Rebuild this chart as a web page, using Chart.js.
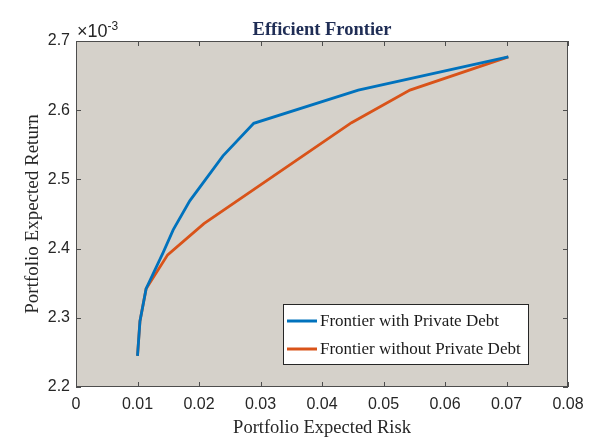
<!DOCTYPE html>
<html>
<head>
<meta charset="utf-8">
<script src="https://cdn.jsdelivr.net/npm/chart.js@4.4.0/dist/chart.umd.min.js"></script>
<style>
  html, body { margin: 0; padding: 0; background: #fff; }
  #wrap { width: 595px; height: 441px; }
</style>
</head>
<body>
<div id="wrap"><canvas id="frontierChart" width="595" height="441"></canvas></div>
<script>
// Series data (risk, expected return)
const seriesLabels = ['Frontier with Private Debt', 'Frontier without Private Debt'];
const withRisk = [0.0100, 0.0104, 0.0114, 0.0142, 0.0158, 0.0185, 0.0239, 0.0289, 0.0459, 0.0703];
const withReturn = [0.002245, 0.002295, 0.002342, 0.002395, 0.002427, 0.002469, 0.002534, 0.002581, 0.002629, 0.002677];
const withoutRisk = [0.0100, 0.0104, 0.0114, 0.0149, 0.0208, 0.0448, 0.0543, 0.0703];
const withoutReturn = [0.002245, 0.002295, 0.002342, 0.002391, 0.002436, 0.002582, 0.002629, 0.002677];
const xTicks = [0, 0.01, 0.02, 0.03, 0.04, 0.05, 0.06, 0.07, 0.08];
const yTicks = [0.0022, 0.0023, 0.0024, 0.0025, 0.0026, 0.0027];
const colors = ['#0072BD', '#D95319'];

const serif = '"Liberation Serif", "Times New Roman", serif';
const sans = '"Liberation Sans", Arial, sans-serif';

function toPoints(xs, ys) {
    return xs.map((x, i) => ({ x: x, y: ys[i] }));
}

// Draws the grey axes box, inner ticks, title, labels and the boxed legend
const matlabLook = {
    id: 'matlabLook',
    beforeDraw(chart) {
        const { ctx, chartArea: a } = chart;
        ctx.save();
        ctx.fillStyle = '#d5d1ca';
        ctx.fillRect(a.left, a.top, a.right - a.left, a.bottom - a.top);
        ctx.restore();
    },
    afterDraw(chart) {
        const { ctx, chartArea: a, scales } = chart;
        ctx.save();
        // box
        ctx.strokeStyle = '#4d4d4d';
        ctx.lineWidth = 1;
        ctx.strokeRect(a.left + 0.5, a.top + 0.5, a.right - a.left - 1, a.bottom - a.top - 1);
        // inner ticks on all four sides
        const tl = 5;
        ctx.beginPath();
        xTicks.forEach(v => {
            const px = Math.round(scales.x.getPixelForValue(v)) + 0.5;
            ctx.moveTo(px, a.bottom); ctx.lineTo(px, a.bottom - tl);
            ctx.moveTo(px, a.top); ctx.lineTo(px, a.top + tl);
        });
        yTicks.forEach(v => {
            const py = Math.round(scales.y.getPixelForValue(v)) + 0.5;
            ctx.moveTo(a.left, py); ctx.lineTo(a.left + tl, py);
            ctx.moveTo(a.right, py); ctx.lineTo(a.right - tl, py);
        });
        ctx.stroke();

        // title
        ctx.fillStyle = '#1f2d55';
        ctx.font = 'bold 18.5px ' + serif;
        ctx.textAlign = 'center';
        ctx.textBaseline = 'alphabetic';
        ctx.fillText('Efficient Frontier', (a.left + a.right) / 2, 35);

        // exponent label
        ctx.fillStyle = '#262626';
        ctx.textAlign = 'left';
        ctx.font = '18px ' + sans;
        const base = '\u00d710';
        ctx.fillText(base, a.left + 1, 37);
        const bw = ctx.measureText(base).width;
        ctx.font = '12px ' + sans;
        ctx.fillText('-3', a.left + 1 + bw, 30);

        // legend
        const lx = 283, ly = 304, lw = 245, lh = 60;
        ctx.fillStyle = '#ffffff';
        ctx.fillRect(lx, ly, lw, lh);
        ctx.strokeStyle = '#262626';
        ctx.strokeRect(lx + 0.5, ly + 0.5, lw, lh);
        ctx.font = '17px ' + serif;
        ctx.textBaseline = 'middle';
        chart.data.datasets.forEach((ds, i) => {
            const y = ly + 17 + i * 28;
            ctx.strokeStyle = ds.borderColor;
            ctx.lineWidth = 3;
            ctx.beginPath();
            ctx.moveTo(lx + 4, y);
            ctx.lineTo(lx + 34, y);
            ctx.stroke();
            ctx.fillStyle = '#1a1a1a';
            ctx.fillText(ds.label, lx + 37, y + 1);
        });
        ctx.restore();
    }
};

const ctx = document.getElementById('frontierChart').getContext('2d');
new Chart(ctx, {
    type: 'line',
    data: {
        datasets: [
            {
                label: seriesLabels[0],
                data: toPoints(withRisk, withReturn),
                borderColor: colors[0],
                borderWidth: 2.8,
                pointRadius: 0,
                tension: 0,
                fill: false
            },
            {
                label: seriesLabels[1],
                data: toPoints(withoutRisk, withoutReturn),
                borderColor: colors[1],
                borderWidth: 2.8,
                pointRadius: 0,
                tension: 0,
                fill: false
            }
        ]
    },
    options: {
        responsive: false,
        animation: false,
        layout: { padding: { top: 41, right: 27, left: 0, bottom: 0 } },
        plugins: {
            legend: { display: false },
            tooltip: { enabled: false },
            title: { display: false }
        },
        scales: {
            x: {
                type: 'linear',
                min: 0,
                max: 0.08,
                afterBuildTicks: s => { s.ticks = xTicks.map(v => ({ value: v })); },
                afterFit: s => { s.height = 54; },
                grid: { display: false, drawTicks: false },
                border: { display: false },
                ticks: {
                    padding: 8,
                    color: '#262626',
                    font: { family: sans, size: 16 },
                    maxRotation: 0,
                    callback: v => v === 0 ? '0' : String(Math.round(v * 100) / 100)
                },
                title: {
                    display: true,
                    text: 'Portfolio Expected Risk',
                    color: '#262626',
                    font: { family: serif, size: 18.5 },
                    padding: { top: 0, bottom: 2 }
                }
            },
            y: {
                type: 'linear',
                min: 0.0022,
                max: 0.0027,
                afterBuildTicks: s => { s.ticks = yTicks.map(v => ({ value: v })); },
                afterFit: s => { s.width = 76; },
                grid: { display: false, drawTicks: false },
                border: { display: false },
                ticks: {
                    padding: 6,
                    color: '#262626',
                    font: { family: sans, size: 16 },
                    callback: v => (v * 1000).toFixed(1)
                },
                title: {
                    display: true,
                    text: 'Portfolio Expected Return',
                    color: '#262626',
                    font: { family: serif, size: 19 },
                    padding: { top: 22, bottom: 0 }
                }
            }
        }
    },
    plugins: [matlabLook]
});
</script>
</body>
</html>
